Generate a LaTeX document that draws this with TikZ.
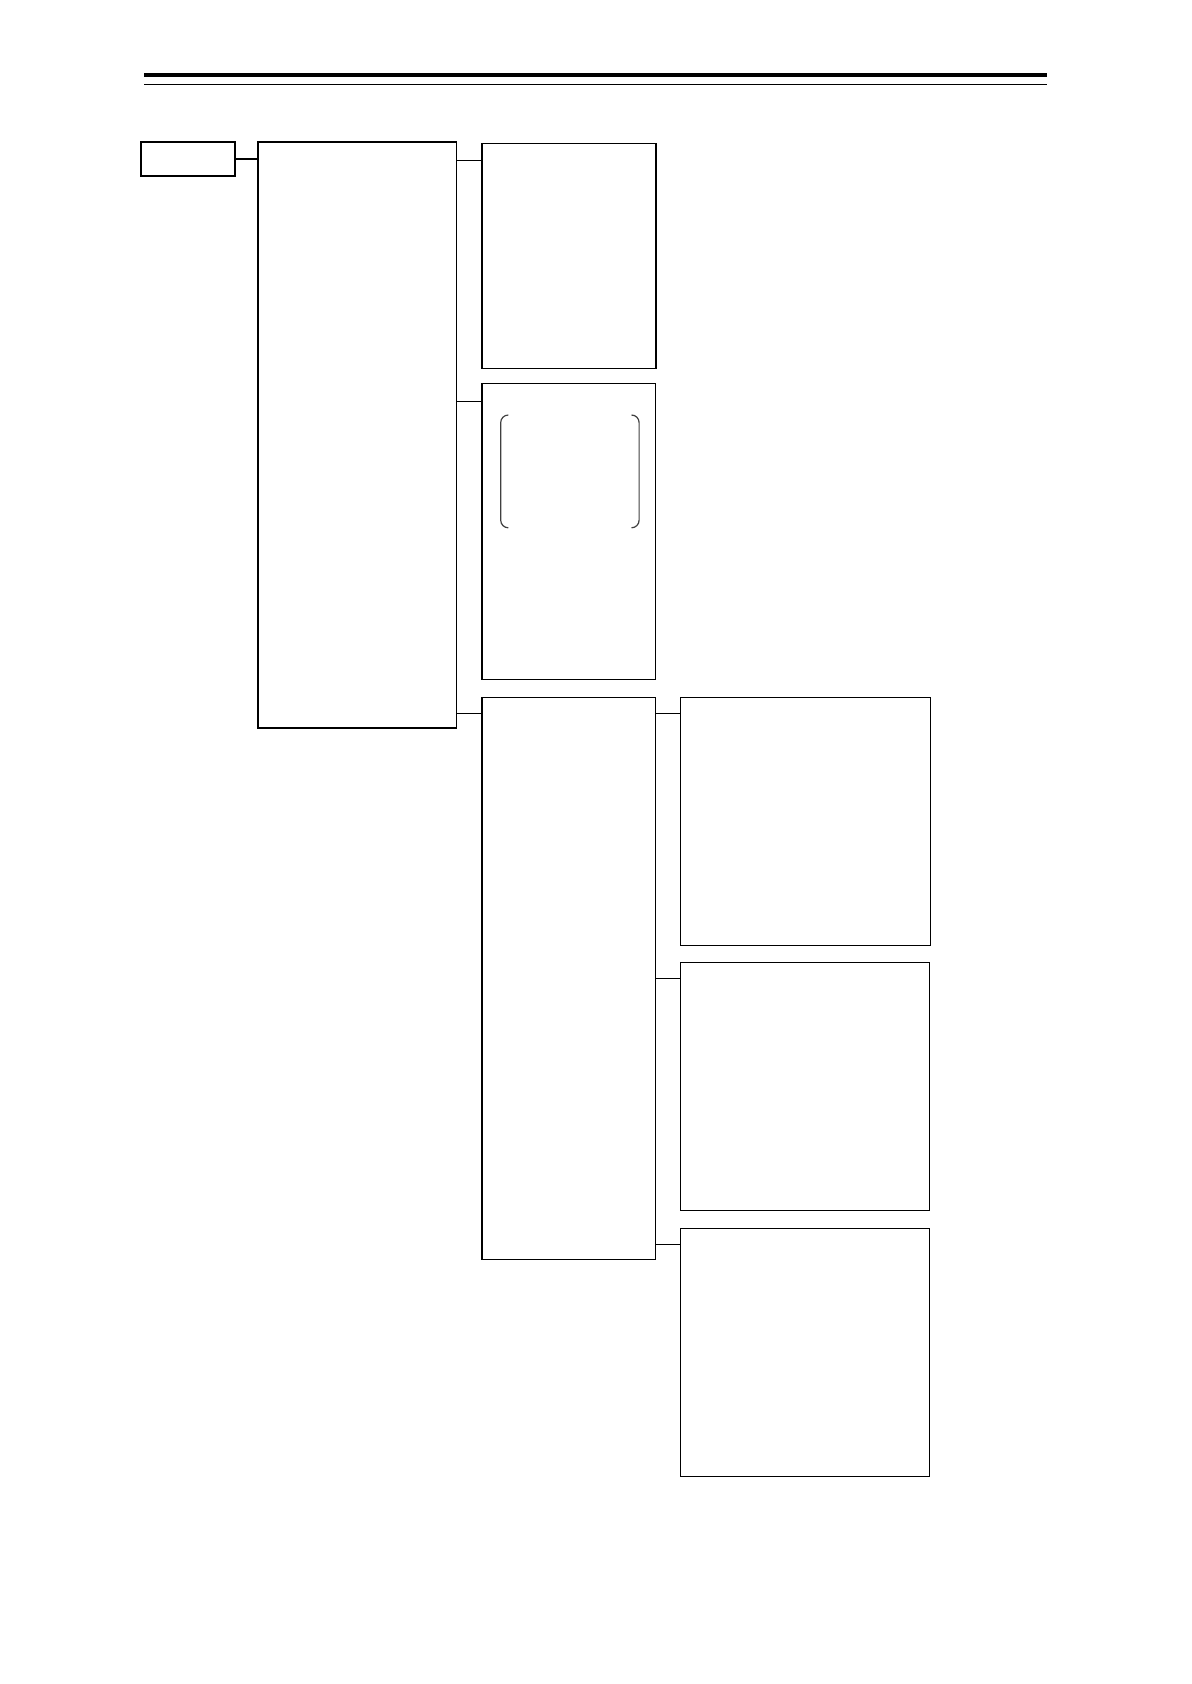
\documentclass[tikz,border=0pt]{standalone}
\usetikzlibrary{positioning}

\tikzset{
  box/.style={draw, rectangle, line width=0.55pt, inner sep=0pt, outer sep=0pt},
  link/.style={line width=0.55pt},
  brace/.style={draw=black!75, line width=0.6pt, rounded corners=3.8pt},
}

\begin{document}
\begin{tikzpicture}[x=1pt,y=1pt]
    \useasboundingbox (0,0) rectangle (595.5,-842);
    \draw[line width=1.7pt] (72,-37.5) -- (523.5,-37.5);
    \draw[line width=0.5pt] (72,-42.5) -- (523.5,-42.5);

    \node[box, minimum width=47pt, minimum height=17pt, anchor=north west] (s1) at (70.5,-71) {};
    \node[box, minimum width=99.25pt, minimum height=293pt, below right=0pt and 11.5pt of s1.north east] (a1) {};
    \node[box, minimum width=87pt, minimum height=112.5pt, below right=0.65pt and 12.75pt of a1.north east] (b1) {};
    \node[box, minimum width=86.75pt, minimum height=148pt, below right=7.5pt and 0pt of b1.south west] (b2) {};
    \node[box, minimum width=86.75pt, minimum height=281pt, below right=9pt and 0pt of b2.south west] (b3) {};
    \node[box, minimum width=125pt, minimum height=124pt, below right=0pt and 12.4pt of b3.north east] (c1) {};
    \node[box, minimum width=124.75pt, minimum height=124pt, below right=8.5pt and 0pt of c1.south west] (c2) {};
    \node[box, minimum width=124.75pt, minimum height=124pt, below right=9pt and 0pt of c2.south west] (c3) {};

    \node[minimum width=68.8pt, minimum height=56pt, inner sep=0pt, below right=15.85pt and 9.35pt of b2.north west] (b2in) {};
    \draw[brace] ([xshift=3.8pt]b2in.north west) -- (b2in.north west) -- (b2in.south west) -- ([xshift=3.8pt]b2in.south west);
    \draw[brace] ([xshift=-3.8pt]b2in.north east) -- (b2in.north east) -- (b2in.south east) -- ([xshift=-3.8pt]b2in.south east);

    \draw[link] (s1.east) -- (s1.east -| a1.west);
    \foreach \p/\c/\d in {a1/b1/8.5pt, a1/b2/9pt, a1/b3/8pt, b3/c1/8pt, b3/c2/8pt, b3/c3/8pt}{
        \coordinate (\c-in) at ([yshift=-\d]\c.north west);
        \draw[link] (\p.east |- \c-in) -- (\c-in);
    }
\end{tikzpicture}
\end{document}
